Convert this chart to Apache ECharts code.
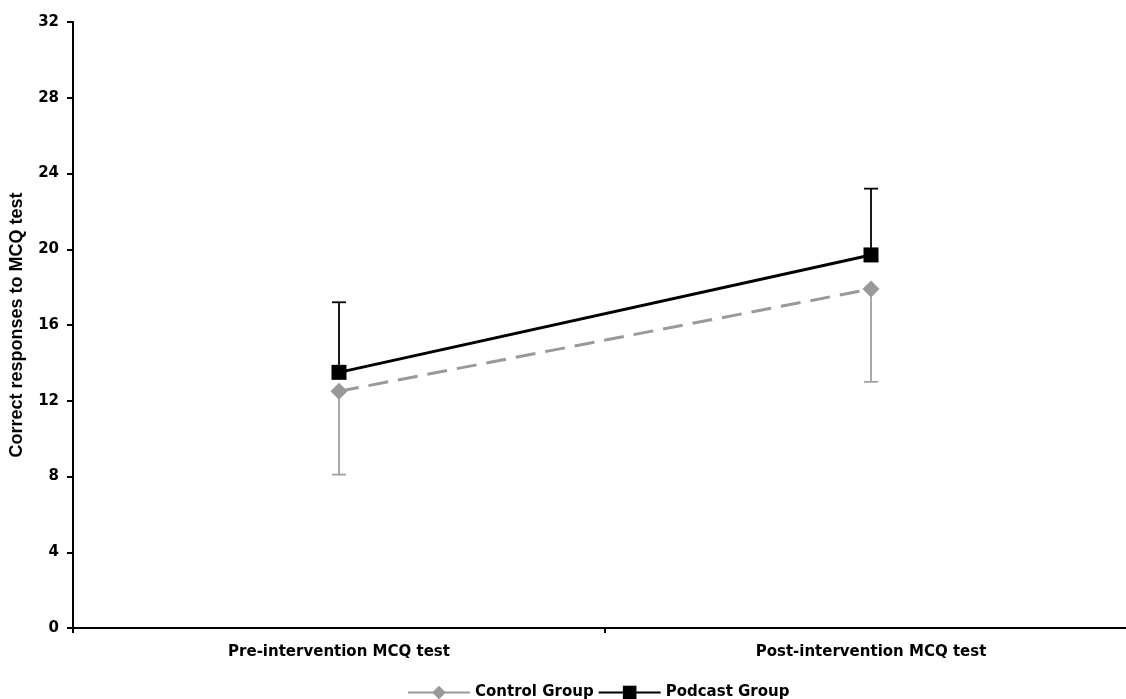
<!DOCTYPE html>
<html>
<head>
<meta charset="utf-8">
<script src="https://cdn.jsdelivr.net/npm/echarts@6/dist/echarts.min.js"></script>
<style>html,body{margin:0;padding:0;background:#fff;}#c{width:1126px;height:699px;}</style>
</head>
<body>
<div id="c"></div>
<script>
var categories = ['Pre-intervention MCQ test', 'Post-intervention MCQ test'];
var controlMean = [12.5, 17.9];
var controlErr = [4.4, 4.9];      // drawn downward
var podcastMean = [13.5, 19.7];
var podcastErr = [3.7, 3.5];      // drawn upward
var yTicks = [0, 4, 8, 12, 16, 20, 24, 28, 32];

var FONT = 'DejaVu Sans';
var chart = echarts.init(document.getElementById('c'));

function errSeries(name, means, errs, dir, color) {
  var data = means.map(function (m, i) { return [i, m, m + dir * errs[i]]; });
  return {
    type: 'custom',
    name: name + ' err',
    z: 1,
    silent: true,
    data: data,
    encode: { x: 0, y: [1, 2] },
    renderItem: function (params, api) {
      var p0 = api.coord([api.value(0), api.value(1)]);
      var p1 = api.coord([api.value(0), api.value(2)]);
      var cap = 7;
      return {
        type: 'group',
        children: [
          { type: 'line', shape: { x1: p0[0], y1: p0[1], x2: p1[0], y2: p1[1] }, style: { stroke: color, lineWidth: 1.8 } },
          { type: 'line', shape: { x1: p1[0] - cap, y1: p1[1], x2: p1[0] + cap, y2: p1[1] }, style: { stroke: color, lineWidth: 1.8 } }
        ]
      };
    }
  };
}

var option = {
  animation: false,
  backgroundColor: '#fff',
  grid: { left: 73, width: 1064, top: 22, bottom: 71, containLabel: false, outerBoundsMode: 'none' },
  legend: {
    top: 680,
    left: 402,
    itemWidth: 62,
    itemHeight: 17,
    itemGap: 4,
    textStyle: { fontFamily: FONT, fontWeight: 'bold', fontSize: 15, color: '#000' },
    data: [
      { name: 'Control Group', lineStyle: { type: 'solid' } },
      { name: 'Podcast Group', lineStyle: { type: 'solid' } }
    ]
  },
  xAxis: {
    type: 'category',
    data: categories,
    boundaryGap: true,
    axisLine: { lineStyle: { color: '#000', width: 2 } },
    axisTick: { show: true, inside: false, length: 5, lineStyle: { color: '#000', width: 2 } },
    axisLabel: { fontFamily: FONT, fontWeight: 'bold', fontSize: 15, color: '#000', margin: 17 },
    splitLine: { show: false }
  },
  yAxis: {
    type: 'value',
    min: yTicks[0],
    max: yTicks[yTicks.length - 1],
    interval: 4,
    name: 'Correct responses to MCQ test',
    nameLocation: 'middle',
    nameGap: 47,
    nameRotate: 90,
    nameTextStyle: { fontFamily: 'Liberation Sans', fontWeight: 'bold', fontSize: 18, color: '#000' },
    axisLine: { show: true, lineStyle: { color: '#000', width: 2 } },
    axisTick: { show: true, length: 6, lineStyle: { color: '#000', width: 2 } },
    axisLabel: { fontFamily: FONT, fontWeight: 'bold', fontSize: 15, color: '#000', margin: 14 },
    splitLine: { show: false }
  },
  series: [
    errSeries('Control Group', controlMean, controlErr, -1, '#a0a0a0'),
    errSeries('Podcast Group', podcastMean, podcastErr, 1, '#000'),
    {
      name: 'Control Group',
      type: 'line',
      z: 3,
      data: controlMean,
      symbol: 'diamond',
      symbolSize: 17,
      itemStyle: { color: '#999999' },
      lineStyle: { color: '#999999', width: 3, type: [20, 10] }
    },
    {
      name: 'Podcast Group',
      type: 'line',
      z: 4,
      data: podcastMean,
      symbol: 'rect',
      symbolSize: 15,
      itemStyle: { color: '#000' },
      lineStyle: { color: '#000', width: 3 }
    }
  ]
};
chart.setOption(option);
</script>
</body>
</html>
